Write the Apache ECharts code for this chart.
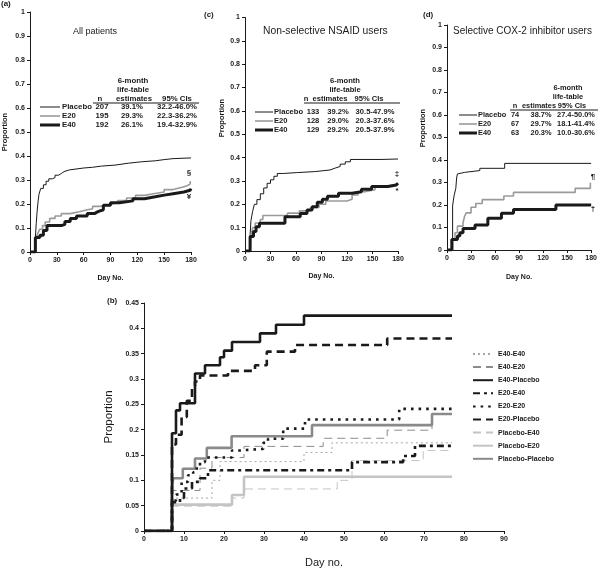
<!DOCTYPE html>
<html>
<head>
<meta charset="utf-8">
<script src="https://cdn.jsdelivr.net/npm/echarts@6/dist/echarts.min.js"></script>
<style>
  html, body { margin: 0; padding: 0; background: #fff; }
  #chart { width: 600px; height: 569px; }
</style>
</head>
<body>
<div id="chart"></div>
<script>
// ---- data: [day, cumulative proportion] at each step ----
// (a) all patients
const aPlacebo = [[0,0],[6,0],[6,0.06],[7,0.12],[8,0.17],[9,0.21],[10,0.24],[12,0.265],[15,0.28],[18,0.295],[21,0.305],[25,0.31],[28,0.32],[32,0.327],[35,0.335],[38,0.342],[44,0.35],[60,0.353],[70,0.358],[80,0.362],[95,0.37],[110,0.376],[125,0.38],[140,0.385],[150,0.389],[160,0.392],[180,0.392]];
const aE20 = [[0,0],[6,0],[7,0.06],[9,0.08],[11,0.095],[14,0.11],[17,0.125],[22,0.14],[28,0.15],[35,0.16],[45,0.168],[55,0.174],[62,0.18],[70,0.19],[78,0.197],[88,0.205],[98,0.214],[108,0.225],[118,0.236],[128,0.243],[138,0.25],[150,0.26],[160,0.268],[168,0.275],[175,0.283],[179,0.292],[180,0.292]];
const aE40 = [[0,0],[6,0],[6,0.06],[11,0.07],[15,0.09],[19,0.11],[35,0.115],[39,0.127],[45,0.14],[52,0.15],[64,0.16],[72,0.168],[76,0.176],[82,0.195],[90,0.205],[100,0.213],[115,0.222],[128,0.23],[140,0.237],[150,0.243],[160,0.25],[172,0.257],[179,0.264],[180,0.264]];
// (c) non-selective NSAID users
const cPlacebo = [[0,0],[6,0],[6,0.07],[7,0.13],[9,0.17],[11,0.2],[14,0.22],[18,0.245],[22,0.27],[26,0.29],[30,0.305],[34,0.32],[38,0.332],[45,0.336],[62,0.34],[82,0.347],[100,0.355],[106,0.362],[112,0.372],[118,0.382],[124,0.392],[160,0.394],[180,0.394]];
const cE20 = [[0,0],[6,0],[7,0.068],[9,0.1],[12,0.12],[18,0.135],[21,0.152],[50,0.162],[64,0.172],[77,0.186],[87,0.2],[95,0.214],[120,0.222],[126,0.24],[133,0.254],[141,0.262],[153,0.276],[164,0.283],[176,0.29],[180,0.29]];
const cE40 = [[0,0],[6,0],[6,0.062],[10,0.083],[13,0.104],[17,0.119],[47,0.147],[65,0.161],[73,0.176],[79,0.19],[85,0.209],[91,0.222],[97,0.235],[110,0.247],[126,0.254],[137,0.264],[149,0.276],[168,0.283],[178,0.29],[180,0.29]];
// (d) selective COX-2 inhibitor users
const dPlacebo = [[0,0],[7,0],[7,0.196],[8,0.222],[9,0.244],[11,0.274],[12,0.32],[13,0.338],[15,0.345],[22,0.353],[41,0.363],[72,0.385],[180,0.385]];
const dE20 = [[0,0],[7,0],[7,0.047],[10,0.077],[13,0.106],[20,0.121],[22,0.15],[24,0.165],[30,0.19],[36,0.207],[44,0.224],[71,0.24],[83,0.256],[160,0.274],[179,0.297],[180,0.297]];
const dE40 = [[0,0],[6,0],[6,0.047],[13,0.062],[16,0.077],[20,0.096],[35,0.111],[51,0.141],[68,0.163],[83,0.18],[136,0.2],[180,0.2]];
// (b) by treatment sequence
const bE40E40 = [[0,0],[7,0],[7,0.057],[8,0.065],[17,0.1],[19,0.137],[40,0.155],[47,0.174],[77,0.174]];
const bE40E20 = [[0,0],[7,0],[7,0.08],[14,0.124],[17,0.145],[25,0.167],[44.8,0.183],[60.8,0.199],[72,0.23],[77,0.23]];
const bE40Placebo = [[0,0],[7,0],[7,0.193],[8,0.238],[9,0.252],[12.75,0.311],[15.25,0.327],[19,0.343],[20,0.356],[22,0.373],[29,0.39],[33,0.407],[40,0.425],[77,0.425]];
const bE20E40 = [[0,0],[7,0],[7,0.057],[9,0.065],[10,0.084],[12,0.097],[14,0.104],[16,0.12],[52,0.136],[64.8,0.148],[67.75,0.168],[77,0.168]];
const bE20E20 = [[0,0],[7,0],[7,0.06],[8,0.072],[9.4,0.097],[11,0.11],[12.3,0.116],[13.2,0.129],[14,0.136],[15.25,0.145],[22,0.159],[24,0.162],[29.8,0.174],[31,0.182],[34.8,0.202],[40.25,0.22],[63.8,0.241],[77,0.241]];
const bE20Placebo = [[0,0],[7,0],[7,0.171],[8,0.19],[9.4,0.225],[10.7,0.257],[12,0.286],[12.75,0.295],[14,0.307],[21,0.316],[27.75,0.327],[30.7,0.354],[37.75,0.367],[60.8,0.38],[77,0.38]];
const bPlaceboE40 = [[0,0],[7,0],[7,0.049],[22,0.065],[25,0.083],[48.3,0.1],[52,0.139],[69.8,0.159],[77,0.159]];
const bPlaceboE20 = [[0,0],[7,0],[7,0.052],[22,0.071],[25,0.107],[77,0.107]];
const bPlaceboPlacebo = [[0,0],[7,0],[7,0.086],[7.3,0.104],[9.7,0.123],[12.75,0.143],[15.7,0.164],[21.9,0.187],[42,0.209],[72,0.231],[77,0.231]];

// table text
const groups = ['Placebo', 'E20', 'E40'];
const tableA = [['207','39.1%','32.2-46.0%'],['195','29.3%','22.3-36.2%'],['192','26.1%','19.4-32.9%']];
const tableC = [['133','39.2%','30.5-47.9%'],['128','29.0%','20.3-37.6%'],['129','29.2%','20.5-37.9%']];
const tableD = [['74','38.7%','27.4-50.0%'],['67','29.7%','18.1-41.4%'],['63','20.3%','10.0-30.6%']];

const FONT = '"Liberation Sans", Arial, sans-serif';
const INK = '#1a1a1a';
const GRAY = '#9a9a9a';

function xAxisFor(gi, max, interval) {
    return {
        type: 'value', gridIndex: gi, min: 0, max: max, interval: interval,
        axisLine: { show: true, lineStyle: { color: INK, width: 1 } },
        axisTick: { show: true, length: 3, lineStyle: { color: INK } },
        axisLabel: { fontSize: 7, fontWeight: 'bold', color: INK, fontFamily: FONT, margin: 5 },
        splitLine: { show: false }
    };
}
function yAxisFor(gi, max, interval) {
    return {
        type: 'value', gridIndex: gi, min: 0, max: max, interval: interval,
        axisLine: { show: true, lineStyle: { color: INK, width: 1 } },
        axisTick: { show: true, length: 3, lineStyle: { color: INK } },
        axisLabel: { fontSize: 7, fontWeight: 'bold', color: INK, fontFamily: FONT, margin: 5 },
        splitLine: { show: false }
    };
}
function km(name, data, gi, color, width, type, z) {
    return {
        name: name, type: 'line', xAxisIndex: gi, yAxisIndex: gi,
        data: data, step: 'end', symbol: 'none', silent: true,
        lineStyle: { color: color, width: width, type: type || 'solid', cap: 'butt' },
        itemStyle: { color: color }, z: z || 2
    };
}
function txt(x, y, s, size, align, weight, rot) {
    return {
        type: 'text', x: x, y: y, rotation: rot || 0, silent: true,
        style: { text: s, fontSize: size, fontWeight: weight || 'bold', fontFamily: FONT,
                 fill: INK, align: align || 'left', verticalAlign: 'middle' }
    };
}
function seg(x1, y1, x2, y2, color, w) {
    return { type: 'line', silent: true, shape: { x1: x1, y1: y1, x2: x2, y2: y2 },
             style: { stroke: color, lineWidth: w } };
}
// table block: head rows, underline, 3 data rows with line samples
function table(rows, o) {
    const g = [];
    g.push(txt(o.head, o.h1, '6-month', o.fs, 'center'));
    g.push(txt(o.head, o.h1 + 9, 'life-table', o.fs, 'center'));
    g.push(txt(o.nh, o.h1 + 18, 'n', o.fs, 'center'));
    g.push(txt(o.ex, o.h1 + 18, 'estimates', o.fs, 'center'));
    g.push(txt(o.cx, o.h1 + 18, '95% CIs', o.fs, 'center'));
    g.push(seg(o.u1, o.h1 + 22, o.u2, o.h1 + 22, INK, 1));
    const styles = [[INK, 1], [GRAY, 1.6], [INK, 3]];
    rows.forEach(function (r, i) {
        const y = o.r1 + i * 9;
        g.push(seg(o.s1, y, o.s2, y, styles[i][0], styles[i][1]));
        g.push(txt(o.lx, y, groups[i], o.fs));
        g.push(txt(o.nx, y, r[0], o.fs, 'center'));
        g.push(txt(o.ex2, y, r[1], o.fs, 'center'));
        g.push(txt(o.cx2, y, r[2], o.fs, 'center'));
    });
    return g;
}

const graphics = [].concat(
    [txt(1, 4, '(a)', 8), txt(204, 15, '(c)', 8), txt(423, 15, '(d)', 8), txt(107, 301, '(b)', 8)],
    [txt(73, 32, 'All patients', 9, 'left', 'normal'),
     txt(263, 31, 'Non-selective NSAID users', 10.3, 'left', 'normal'),
     txt(453, 31, 'Selective COX-2 inhibitor users', 10, 'left', 'normal')],
    [txt(222, 118, 'Proportion', 7.5, 'center', 'bold', Math.PI / 2),
     txt(423, 128, 'Proportion', 7.5, 'center', 'bold', Math.PI / 2)],
    table(tableA, { head: 133, h1: 81, nh: 100, nx: 102, ex: 134, cx: 177, u1: 93, u2: 199, r1: 107,
                    s1: 40, s2: 60, lx: 62, ex2: 132, cx2: 177, fs: 7.8 }),
    table(tableC, { head: 345, h1: 81, nh: 306, nx: 313, ex: 330, cx: 369, u1: 304, u2: 400, r1: 112,
                    s1: 255, s2: 273, lx: 274, ex2: 338, cx2: 375, fs: 7.6 }),
    table(tableD, { head: 568, h1: 88, nh: 515, nx: 515, ex: 539, cx: 572, u1: 510, u2: 598, r1: 115,
                    s1: 459, s2: 477, lx: 478, ex2: 541, cx2: 576, fs: 7.4 }),
    [txt(189, 173, '§', 8, 'center'), txt(189, 197, '¥', 8, 'center'),
     txt(397, 174, '‡', 8, 'center'), txt(397, 191, '*', 8, 'center'),
     txt(593, 177, '¶', 8, 'center'), txt(593, 209, '†', 8, 'center')]
);

const legendNames = ['E40-E40', 'E40-E20', 'E40-Placebo', 'E20-E40', 'E20-E20',
                     'E20-Placebo', 'Placebo-E40', 'Placebo-E20', 'Placebo-Placebo'];

const option = {
    animation: false,
    backgroundColor: '#fff',
    textStyle: { fontFamily: FONT },
    grid: [
        { left: 30, top: 12, width: 161, height: 240 },
        { left: 245, top: 17.5, width: 153, height: 233.5 },
        { left: 447, top: 25, width: 145, height: 225 },
        { left: 144, top: 303, width: 360, height: 234 }
    ],
    xAxis: [
        Object.assign(xAxisFor(0, 180, 30), { name: 'Day No.', nameLocation: 'middle', nameGap: 23,
            nameTextStyle: { fontSize: 7, fontWeight: 'bold', color: INK } }),
        Object.assign(xAxisFor(1, 180, 30), { name: 'Day No.', nameLocation: 'middle', nameGap: 22,
            nameTextStyle: { fontSize: 7, fontWeight: 'bold', color: INK } }),
        Object.assign(xAxisFor(2, 180, 30), { name: 'Day No.', nameLocation: 'middle', nameGap: 24,
            nameTextStyle: { fontSize: 7, fontWeight: 'bold', color: INK } }),
        Object.assign(xAxisFor(3, 90, 10), { name: 'Day no.', nameLocation: 'middle', nameGap: 26,
            nameTextStyle: { fontSize: 11, color: INK } })
    ],
    yAxis: [
        Object.assign(yAxisFor(0, 1, 0.1), { name: 'Proportion', nameLocation: 'middle', nameGap: 21,
            nameTextStyle: { fontSize: 7.5, fontWeight: 'bold', color: INK } }),
        yAxisFor(1, 1, 0.1),
        yAxisFor(2, 1, 0.1),
        Object.assign(yAxisFor(3, 0.45, 0.05), { name: 'Proportion', nameLocation: 'middle', nameGap: 22,
            nameTextStyle: { fontSize: 11.5, color: INK } })
    ],
    legend: {
        data: legendNames, orient: 'vertical', left: 467, top: 345,
        itemWidth: 20, itemHeight: 10, itemGap: 5.1, selectedMode: false,
        itemStyle: { opacity: 0 },
        textStyle: { fontSize: 7, fontWeight: 'bold', color: INK, fontFamily: FONT }
    },
    graphic: graphics,
    series: [
        km('a-Placebo', aPlacebo, 0, INK, 1),
        km('a-E20', aE20, 0, GRAY, 1.6),
        km('a-E40', aE40, 0, INK, 3, 'solid', 3),
        km('c-Placebo', cPlacebo, 1, INK, 1),
        km('c-E20', cE20, 1, GRAY, 1.6),
        km('c-E40', cE40, 1, INK, 3, 'solid', 3),
        km('d-Placebo', dPlacebo, 2, INK, 1),
        km('d-E20', dE20, 2, GRAY, 1.6),
        km('d-E40', dE40, 2, INK, 3, 'solid', 3),
        km('E40-E40', bE40E40, 3, '#a6a6a6', 1, [2, 3]),
        km('E40-E20', bE40E20, 3, '#8c8c8c', 1, [8, 5]),
        km('E40-Placebo', bE40Placebo, 3, INK, 2.6, 'solid', 4),
        km('E20-E40', bE20E40, 3, INK, 2.6, [7, 4, 3, 4], 4),
        km('E20-E20', bE20E20, 3, INK, 2.6, [2.6, 5], 4),
        km('E20-Placebo', bE20Placebo, 3, INK, 2.6, [8, 5], 4),
        km('Placebo-E40', bPlaceboE40, 3, '#c4c4c4', 1, [8, 5]),
        km('Placebo-E20', bPlaceboE20, 3, '#c4c4c4', 2.6),
        km('Placebo-Placebo', bPlaceboPlacebo, 3, '#8a8a8a', 2.6, 'solid', 3)
    ]
};

const myChart = echarts.init(document.getElementById('chart'), null, { renderer: 'canvas' });
myChart.setOption(option);
</script>
</body>
</html>
